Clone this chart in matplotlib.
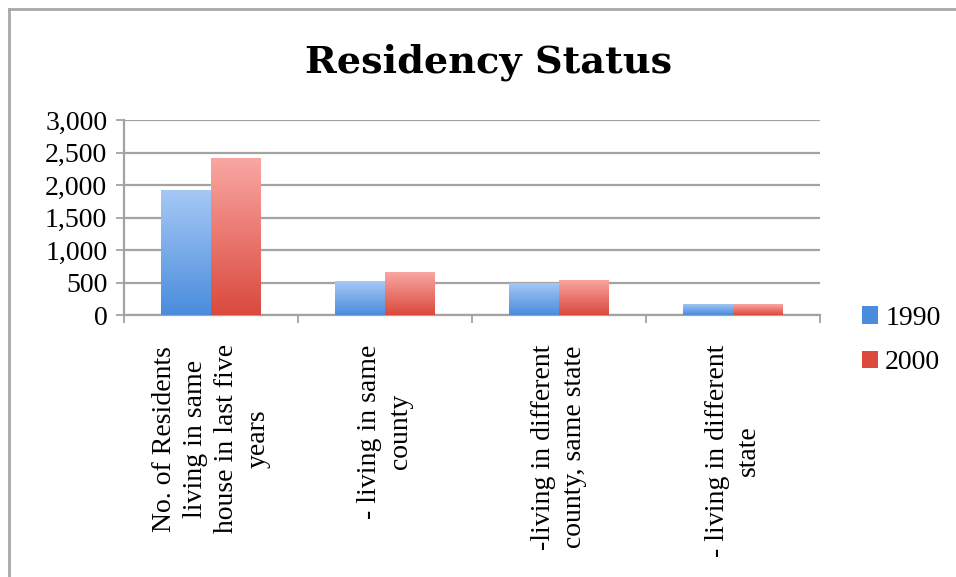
import matplotlib
matplotlib.use("Agg")
import matplotlib.pyplot as plt
import numpy as np
from matplotlib.colors import LinearSegmentedColormap
from matplotlib.lines import Line2D
from matplotlib.patches import Patch

categories = [
    "No. of Residents\nliving in same\nhouse in last five\nyears",
    "- living in same\ncounty",
    "-living in different\ncounty, same state",
    "- living in different\nstate",
]
years = ["1990", "2000"]
residents_1990 = [1930, 520, 500, 175]
residents_2000 = [2420, 660, 540, 165]
y_ticks = [0, 500, 1000, 1500, 2000, 2500, 3000]

# light top -> saturated bottom, one ramp per series
gradients = {
    "1990": ("#a6c8f6", "#4a8ddc"),
    "2000": ("#f9a6a2", "#db4a3d"),
}

plt.rcParams["font.family"] = ["Liberation Serif", "DejaVu Serif"]
grid_color = "#a3a3a3"

fig = plt.figure(figsize=(9.56, 5.77), dpi=100)
ax = fig.add_axes([0.1297, 0.454, 0.728, 0.338])

x = np.arange(len(categories))
width = 0.286

for offset, year, values in [(-width / 2, "1990", residents_1990),
                             (width / 2, "2000", residents_2000)]:
    bars = ax.bar(x + offset, values, width, color="none", zorder=3)
    cmap = LinearSegmentedColormap.from_list(year, gradients[year][::-1])
    for bar in bars:
        x0, y0 = bar.get_x(), bar.get_y()
        ramp = np.linspace(1, 0, 64).reshape(-1, 1)
        img = ax.imshow(ramp, cmap=cmap, aspect="auto", zorder=3,
                        extent=[x0, x0 + bar.get_width(), y0, y0 + bar.get_height()])
        img.set_clip_path(bar)

ax.set_xlim(-0.5, len(categories) - 0.5)
ax.set_ylim(0, 3000)
ax.set_yticks(y_ticks)
ax.set_yticklabels([f"{v:,}" for v in y_ticks], fontsize=20)
ax.yaxis.grid(True, color=grid_color, linewidth=1.6, zorder=0)
ax.set_axisbelow(True)

# category boundaries get tick marks, labels sit on minor ticks at centres
ax.set_xticks(np.arange(len(categories) + 1) - 0.5)
ax.set_xticklabels([])
ax.set_xticks(x, minor=True)
ax.set_xticklabels(categories, minor=True, rotation=90, fontsize=20,
                   linespacing=1.33)
for lbl in ax.get_xticklabels(minor=True):
    lbl.set_multialignment("center")
ax.tick_params(axis="x", which="minor", length=0, pad=21)
ax.tick_params(axis="both", which="major", color=grid_color, width=1.3,
               length=6, direction="out")
ax.tick_params(axis="y", pad=6)

for side in ["top", "right"]:
    ax.spines[side].set_visible(False)
for side in ["left", "bottom"]:
    ax.spines[side].set_color(grid_color)
    ax.spines[side].set_linewidth(1.6)

fig.text(0.511, 0.892, "Residency Status", ha="center", va="center",
         fontsize=27.5, fontweight="bold", family="DejaVu Serif")

handles = [Patch(facecolor=gradients[y][1], edgecolor="none") for y in years]
fig.legend(handles, years, loc="center left", bbox_to_anchor=(0.875, 0.41),
           frameon=False, fontsize=20, handlelength=0.6, handleheight=0.6,
           handletextpad=0.25, labelspacing=0.7)

# outer chart frame: left and top edges
fig.add_artist(Line2D([8.5 / 956, 8.5 / 956], [0, 1 - 9 / 577],
                      transform=fig.transFigure, color="#a8a8a8", linewidth=2))
fig.add_artist(Line2D([8.5 / 956, 1], [1 - 9 / 577, 1 - 9 / 577],
                      transform=fig.transFigure, color="#a8a8a8", linewidth=2))

fig.savefig("out.png", dpi=100, facecolor="white")
